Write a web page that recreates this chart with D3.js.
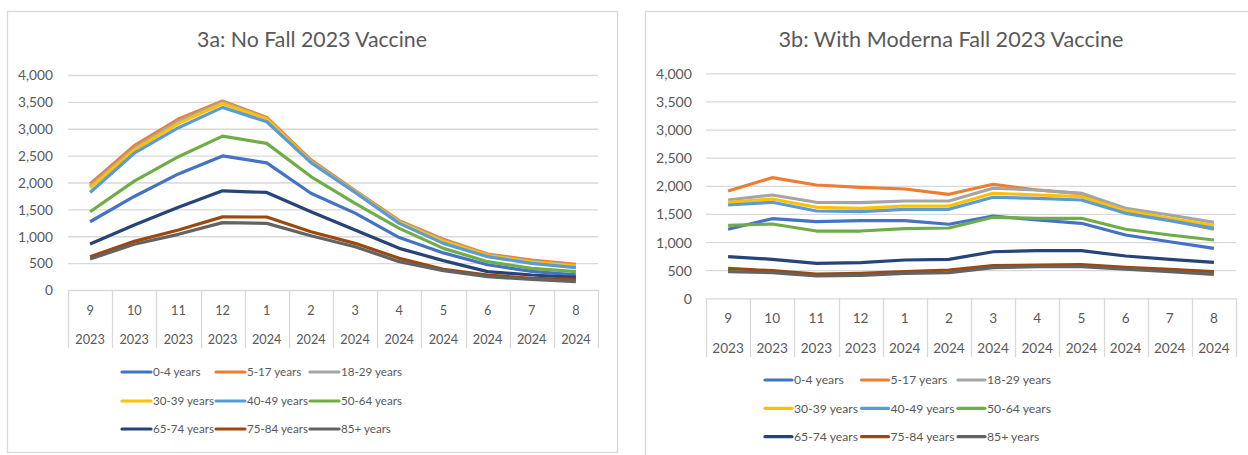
<!DOCTYPE html>
<html>
<head>
<meta charset="utf-8">
<script src="https://cdn.jsdelivr.net/npm/d3@7/dist/d3.min.js"></script>
<style>
  html, body { margin: 0; padding: 0; background: #fff; }
  svg text { font-family: Lato, "Open Sans", sans-serif; fill: #595959; }
</style>
</head>
<body>
<div id="chart"></div>
<script>
// categories
const months = ['9', '10', '11', '12', '1', '2', '3', '4', '5', '6', '7', '8'];
const years = ['2023', '2023', '2023', '2023', '2024', '2024', '2024', '2024', '2024', '2024', '2024', '2024'];
const seriesNames = ['0-4 years', '5-17 years', '18-29 years', '30-39 years', '40-49 years',
  '50-64 years', '65-74 years', '75-84 years', '85+ years'];
const seriesColors = ['#4472C4', '#ED7D31', '#A5A5A5', '#FFC000', '#5B9BD5',
  '#70AD47', '#264478', '#9E480E', '#636363'];
const yTicks = [0, 500, 1000, 1500, 2000, 2500, 3000, 3500, 4000];

// 3a: No Fall 2023 Vaccine (one row per age group)
const noFallValues = [
  [1270, 1740, 2160, 2495, 2365, 1800, 1430, 975, 690, 470, 345, 280],
  [1975, 2685, 3180, 3515, 3210, 2420, 1850, 1290, 945, 670, 555, 478],
  [1935, 2640, 3140, 3500, 3190, 2400, 1835, 1275, 925, 655, 535, 460],
  [1900, 2605, 3100, 3470, 3180, 2385, 1825, 1260, 905, 640, 520, 445],
  [1815, 2545, 3020, 3398, 3130, 2370, 1815, 1240, 868, 620, 496, 415],
  [1455, 2025, 2480, 2862, 2728, 2110, 1612, 1147, 775, 527, 403, 341],
  [855, 1210, 1538, 1845, 1815, 1455, 1116, 775, 546, 341, 279, 236],
  [620, 905, 1116, 1360, 1358, 1085, 868, 589, 385, 279, 217, 198],
  [577, 850, 1036, 1253, 1240, 1010, 806, 527, 360, 248, 198, 155]
];

// 3b: With Moderna Fall 2023 Vaccine
const modernaValues = [
  [1227, 1415, 1362, 1380, 1380, 1316, 1463, 1392, 1333, 1125, 1006, 889],
  [1907, 2144, 2014, 1973, 1943, 1849, 2027, 1925, 1860, 1540, 1392, 1227],
  [1748, 1836, 1707, 1700, 1730, 1730, 1956, 1925, 1867, 1600, 1481, 1351],
  [1707, 1765, 1618, 1600, 1641, 1641, 1867, 1836, 1806, 1558, 1422, 1291],
  [1659, 1707, 1552, 1540, 1582, 1582, 1796, 1778, 1748, 1511, 1380, 1244],
  [1298, 1321, 1196, 1196, 1237, 1250, 1440, 1422, 1422, 1227, 1125, 1036],
  [740, 693, 622, 633, 681, 693, 828, 846, 846, 752, 693, 640],
  [533, 491, 432, 444, 473, 503, 580, 592, 600, 551, 516, 473],
  [473, 455, 396, 409, 444, 455, 544, 562, 562, 516, 473, 427]
];

const W = 1248, H = 455;
const svg = d3.select('#chart').append('svg')
  .attr('width', W).attr('height', H)
  .attr('viewBox', '0 0 ' + W + ' ' + H);

// pick a font size so that a sample string gets the width seen in the original (Calibri is narrow)
function fitSize(sample, width) {
  const t = svg.append('text').style('font-size', '20px').text(sample);
  const w = t.node().getComputedTextLength();
  t.remove();
  return (20 * width / w).toFixed(2) + 'px';
}

function drawPanel(cfg, values) {
  const g = svg.append('g');
  const fs = {
    title: fitSize(cfg.title, cfg.fit.title),
    y: fitSize('4,000', cfg.fit.y),
    x: fitSize('2023', cfg.fit.x),
    legend: fitSize('30-39 years', cfg.fit.legend)
  };
  // chart frame
  g.append('rect')
    .attr('x', cfg.box[0] + 0.5).attr('y', cfg.box[1] + 0.5)
    .attr('width', cfg.box[2]).attr('height', cfg.box[3])
    .attr('fill', '#fff').attr('stroke', '#D9D9D9').attr('stroke-width', 1.3);

  g.append('text')
    .attr('x', cfg.box[0] + cfg.box[2] / 2).attr('y', cfg.titleY)
    .attr('text-anchor', 'middle').attr('dy', '0.35em')
    .style('font-size', fs.title)
    .text(cfg.title);

  const x = d3.scaleBand().domain(d3.range(months.length)).range([cfg.left, cfg.right]);
  const y = d3.scaleLinear().domain([0, 4000]).range([cfg.bottom, cfg.top]);

  // gridlines + y labels
  const yAxis = d3.axisLeft(y).tickValues(yTicks).tickSize(-(cfg.right - cfg.left))
    .tickFormat(d3.format(','));
  const ya = g.append('g').attr('transform', 'translate(' + cfg.left + ',0)').call(yAxis);
  ya.select('.domain').remove();
  ya.selectAll('line').attr('stroke', '#D9D9D9').attr('stroke-width', 1.3);
  ya.selectAll('text').attr('x', cfg.labelRight - cfg.left).attr('dy', '0.35em')
    .style('font-size', fs.y).attr('fill', '#595959');

  // category dividers
  const bounds = d3.range(months.length + 1).map(i => i < months.length ? x(i) : cfg.right);
  g.selectAll('.div').data(bounds).enter().append('line')
    .attr('x1', d => Math.round(d) + 0.5).attr('x2', d => Math.round(d) + 0.5)
    .attr('y1', cfg.bottom).attr('y2', cfg.divBottom)
    .attr('stroke', '#D9D9D9').attr('stroke-width', 1.3);

  g.selectAll('.mon').data(months).enter().append('text')
    .attr('x', (d, i) => x(i) + x.bandwidth() / 2).attr('y', cfg.monthY)
    .attr('text-anchor', 'middle').attr('dy', '0.35em')
    .style('font-size', fs.x).text(d => d);
  g.selectAll('.yr').data(years).enter().append('text')
    .attr('x', (d, i) => x(i) + x.bandwidth() / 2).attr('y', cfg.yearY)
    .attr('text-anchor', 'middle').attr('dy', '0.35em')
    .style('font-size', fs.x).text(d => d);

  const line = d3.line()
    .x((d, i) => x(i) + x.bandwidth() / 2)
    .y(d => y(d));

  g.selectAll('.series').data(values).enter().append('path')
    .attr('d', d => line(d))
    .attr('fill', 'none')
    .attr('stroke', (d, i) => seriesColors[i])
    .attr('stroke-width', 3.2)
    .attr('stroke-linejoin', 'round');

  // legend, three per row
  const leg = g.selectAll('.leg').data(seriesNames).enter().append('g')
    .attr('transform', (d, i) => 'translate(' + (cfg.legX + (i % 3) * cfg.legDx) + ',' +
      cfg.legRows[Math.floor(i / 3)] + ')');
  leg.append('line')
    .attr('x1', 0).attr('x2', cfg.legLine).attr('y1', 0).attr('y2', 0)
    .attr('stroke', (d, i) => seriesColors[i]).attr('stroke-width', 3.2)
    .attr('stroke-linecap', 'round');
  leg.append('text')
    .attr('x', cfg.legLine + 2).attr('y', 0).attr('dy', '0.35em')
    .style('font-size', fs.legend).text(d => d);
}

drawPanel({
  box: [7, 11, 610, 441], title: '3a: No Fall 2023 Vaccine', titleY: 40,
  left: 68, right: 598, top: 75, bottom: 290, labelRight: 53,
  divBottom: 348, monthY: 311, yearY: 340,
  legX: 122, legDx: 94, legLine: 29, legRows: [372, 401, 429],
  fit: { title: 230, y: 35, x: 29.5, legend: 61 }
}, noFallValues);

drawPanel({
  box: [645, 11, 612, 452], title: '3b: With Moderna Fall 2023 Vaccine', titleY: 39,
  left: 706, right: 1236, top: 73.3, bottom: 298.3, labelRight: 692,
  divBottom: 357, monthY: 318, yearY: 348,
  legX: 765, legDx: 96.5, legLine: 27, legRows: [380, 408.3, 436.7],
  fit: { title: 345, y: 36, x: 31.5, legend: 64 }
}, modernaValues);
</script>
</body>
</html>
